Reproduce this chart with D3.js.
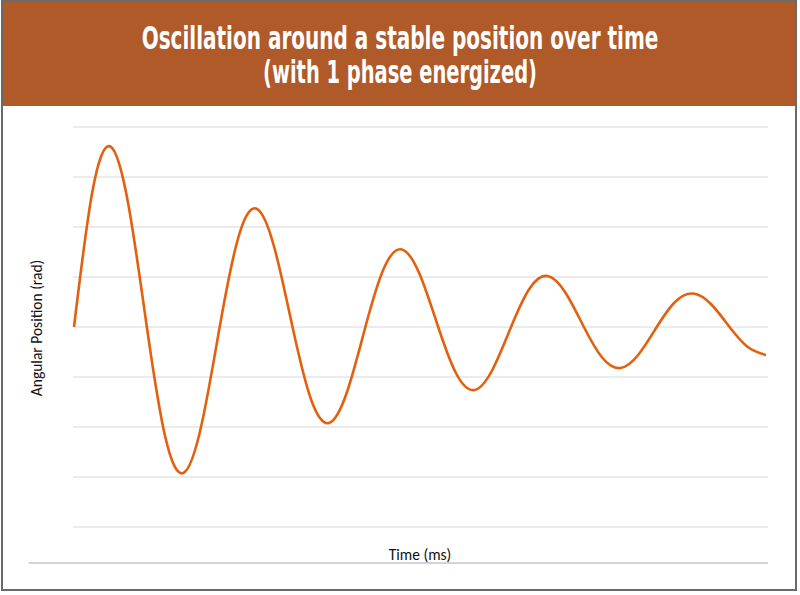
<!DOCTYPE html>
<html>
<head>
<meta charset="utf-8">
<script src="https://cdn.jsdelivr.net/npm/d3@7"></script>
<style>
	html, body { margin: 0; padding: 0; background: #fff; }
	svg { display: block; }
</style>
</head>
<body>
<div id="chart"></div>
<script>
// time in ms (no tick labels on the original, so the unit scale is arbitrary)
let times = [0, 2.5, 5, 7.5, 10, 12.5, 15, 17.5, 20, 22.5, 25, 27.5, 30, 32.5, 35, 37.5,
	40, 42.5, 45, 47.5, 50, 52.5, 55, 57.5, 60, 62.5, 65, 67.5, 70, 72.5, 75, 77.5,
	80, 82.5, 85, 87.5, 90, 92.5, 95];
// angular position in rad
let angles = [0, 2.69, 3.61, 2.42, 0, -2.18, -2.92, -1.96, 0, 1.76, 2.37, 1.59, 0, -1.43, -1.92, -1.29,
	0, 1.16, 1.55, 1.04, 0, -0.94, -1.26, -0.84, 0, 0.76, 1.02, 0.68, 0, -0.61, -0.82, -0.55,
	0, 0.50, 0.67, 0.45, 0, -0.40, -0.56];
let gridValues = [-4, -3, -2, -1, 0, 1, 2, 3, 4];

let titleLines = ["Oscillation around a stable position over time", "(with 1 phase energized)"];
let titleWidths = [517, 274];
let xTitle = "Time (ms)";
let yTitle = "Angular Position (rad)";

let width = 800, height = 595;

let svg = d3.select("#chart").append("svg")
	.attr("width", width)
	.attr("height", height);

// frame + banner
svg.append("rect")
	.attr("x", 2).attr("y", 1)
	.attr("width", 794).attr("height", 589)
	.attr("fill", "#fff")
	.attr("stroke", "#6a6a6a")
	.attr("stroke-width", 2);

svg.append("rect")
	.attr("x", 3).attr("y", 2)
	.attr("width", 792).attr("height", 104)
	.attr("fill", "#AF5A28");

// condensed title: squeeze each line horizontally to the width seen in the reference
svg.selectAll(".title")
	.data(titleLines)
	.enter().append("text")
	.attr("class", "title")
	.attr("x", 0)
	.attr("y", 0)
	.attr("text-anchor", "middle")
	.attr("fill", "#fff")
	.style("font-family", "'Liberation Sans Narrow', 'DejaVu Sans Condensed', sans-serif")
	.style("font-weight", "bold")
	.style("font-size", "32px")
	.text((d) => d)
	.attr("transform", function(d, i) {
		let w = this.getComputedTextLength();
		let sx = Math.min(1, titleWidths[i] / w);
		return "translate(400," + (49 + i * 34) + ") scale(" + sx + ",1)";
	});

let x = d3.scaleLinear().domain([0, 95]).range([74, 766]);
let y = d3.scaleLinear().domain([-4.72, 4]).range([563, 127]);

// gridlines
svg.append("g").selectAll("line")
	.data(gridValues)
	.enter().append("line")
	.attr("x1", 73).attr("x2", 768)
	.attr("y1", (d) => y(d)).attr("y2", (d) => y(d))
	.attr("stroke", "#e4e4e4")
	.attr("stroke-width", 1.5);

// category axis line
svg.append("line")
	.attr("x1", 29).attr("x2", 768)
	.attr("y1", y(-4.72)).attr("y2", y(-4.72))
	.attr("stroke", "#c4c4c4")
	.attr("stroke-width", 1.5);

let line = d3.line()
	.x((d, i) => x(times[i]))
	.y((d) => y(d))
	.curve(d3.curveNatural);

svg.append("path")
	.datum(angles)
	.attr("d", line)
	.attr("fill", "none")
	.attr("stroke", "#E2600E")
	.attr("stroke-width", 2.6)
	.attr("stroke-linejoin", "round");

let labelFont = "Carlito, Lato, 'Open Sans', sans-serif";

svg.append("text")
	.attr("x", 420).attr("y", 560)
	.attr("text-anchor", "middle")
	.style("font-family", labelFont)
	.style("font-size", "15.5px")
	.attr("fill", "#111")
	.text(xTitle);

svg.append("text")
	.attr("transform", "translate(42,328) rotate(-90)")
	.attr("text-anchor", "middle")
	.style("font-family", labelFont)
	.style("font-size", "15.5px")
	.attr("fill", "#111")
	.text(yTitle);
</script>
</body>
</html>
